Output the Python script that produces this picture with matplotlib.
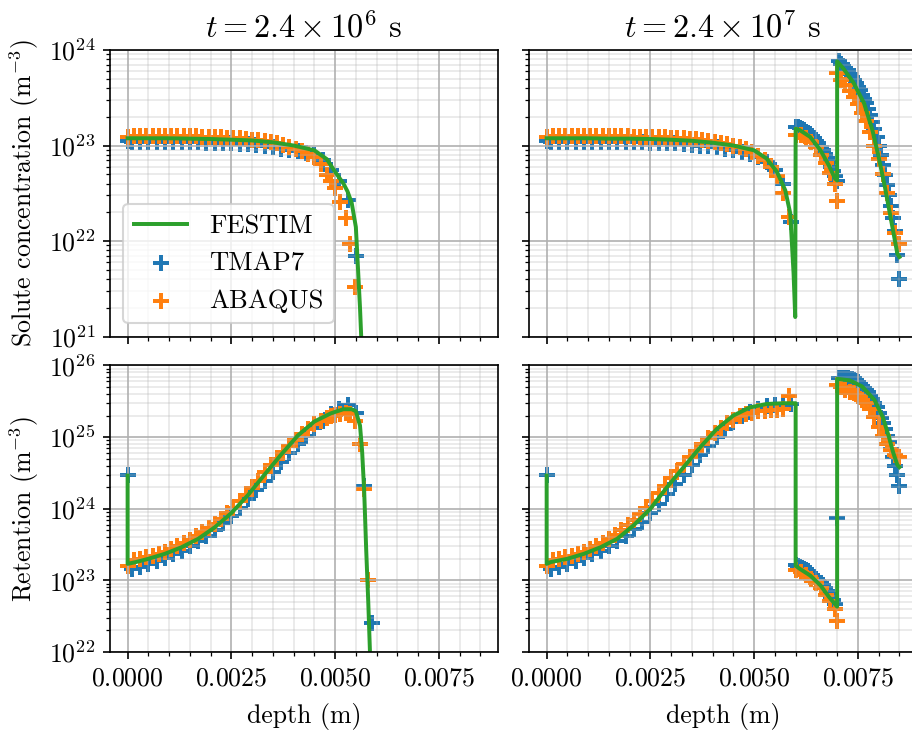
import matplotlib
matplotlib.use("Agg")
import matplotlib.pyplot as plt
from matplotlib.ticker import MultipleLocator

plt.rcParams["font.family"] = "serif"
plt.rcParams["font.serif"] = ["cmr10"]
plt.rcParams["mathtext.fontset"] = "cm"
plt.rcParams["axes.formatter.use_mathtext"] = True
plt.rcParams["font.size"] = 12.4

# ---- meshes (depth in m) ----
tmap_x = [0.0, 0.0001, 0.0003, 0.0005, 0.0007, 0.0009, 0.0011, 0.0013, 0.0015, 0.0017,
          0.0019, 0.0021, 0.0023, 0.0025, 0.0027, 0.0029, 0.0031, 0.0033, 0.0035, 0.0037,
          0.0039, 0.0041, 0.0043, 0.0045, 0.0047, 0.0049, 0.0051, 0.0053, 0.0055, 0.0057, 0.0059]
tmap_x_l2 = [0.006, 0.00605, 0.0061, 0.00615, 0.0062, 0.00625, 0.0063, 0.00635, 0.0064, 0.00645,
             0.0065, 0.00655, 0.0066, 0.00665, 0.0067, 0.00675, 0.0068, 0.00685, 0.0069, 0.00695, 0.007]
tmap_x_l3 = [0.00705, 0.0071, 0.00715, 0.0072, 0.00725, 0.0073, 0.00735, 0.0074, 0.00745, 0.0075,
             0.00755, 0.0076, 0.00765, 0.0077, 0.00775, 0.0078, 0.00785, 0.0079, 0.00795, 0.008,
             0.00805, 0.0081, 0.00815, 0.0082, 0.00825, 0.0083, 0.00835, 0.0084, 0.00845, 0.0085]

abaqus_x_t1 = [0.0, 0.00015, 0.0003, 0.00045, 0.0006, 0.00075, 0.0009, 0.00105, 0.0012, 0.00135,
               0.0015, 0.00165, 0.0018, 0.00195, 0.0021, 0.00225, 0.0024, 0.00255, 0.0027, 0.00285,
               0.003, 0.00315, 0.0033, 0.00345, 0.0036, 0.00375, 0.0039, 0.00405, 0.0042, 0.00435,
               0.0045, 0.00465, 0.0048, 0.0049, 0.005, 0.00512, 0.00526, 0.00536, 0.00548, 0.00559,
               0.00569, 0.00579]
abaqus_x_t2 = [0.0, 0.00015, 0.0003, 0.00045, 0.0006, 0.00075, 0.0009, 0.00105, 0.0012, 0.00135,
               0.0015, 0.00165, 0.0018, 0.00195, 0.0021, 0.00225, 0.0024, 0.00255, 0.0027, 0.00285,
               0.003, 0.00315, 0.0033, 0.00345, 0.0036, 0.00375, 0.0039, 0.00405, 0.0042, 0.00435,
               0.0045, 0.00465, 0.0048, 0.00495, 0.0051, 0.00525, 0.0054, 0.00555, 0.0057, 0.00585,
               0.006, 0.00612, 0.00624, 0.00636, 0.00648, 0.0066, 0.00672, 0.00684, 0.00696, 0.007,
               0.007, 0.0071, 0.0072, 0.0073, 0.0074, 0.0075, 0.0076, 0.0077, 0.0078, 0.0079,
               0.008, 0.0081, 0.0082, 0.0083, 0.0084, 0.0085]

# ---- t = 2.4e6 s ----
festim_x_c1 = [0.0, 0.0005, 0.001, 0.0015, 0.002, 0.0025, 0.003, 0.0035, 0.004, 0.0045,
               0.0048, 0.005, 0.0052, 0.0053, 0.0054, 0.0055, 0.0056, 0.00565, 0.0057]
festim_conc_t1 = [1.19e23, 1.19e23, 1.19e23, 1.18e23, 1.17e23, 1.15e23, 1.13e23, 1.08e23, 1.0e23, 8.9e22,
                  7.2e22, 5.3e22, 4.0e22, 3.3e22, 2.5e22, 1.4e22, 2.0e21, 6e20, 1e20]
festim_x_r1 = [0.0, 0.0, 0.0002, 0.0005, 0.0009, 0.0013, 0.0017, 0.0021, 0.0025, 0.0029,
               0.0033, 0.0037, 0.0041, 0.0045, 0.0049, 0.0052, 0.0054, 0.0055, 0.0056, 0.00565,
               0.0057, 0.00575, 0.0058, 0.00584, 0.0059]
festim_ret_t1 = [2.9e24, 1.7e23, 1.8e23, 2.0e23, 2.35e23, 2.9e23, 3.8e23, 5.5e23, 8.7e23, 1.55e24,
                 3.0e24, 5.7e24, 1.05e25, 1.65e25, 2.15e25, 2.45e25, 2.45e25, 2.3e25, 1.45e25, 6.5e24,
                 1.8e24, 2.6e23, 4.8e22, 1.0e22, 2e21]
tmap_conc_t1 = [1.12e23, 1.10e23, 1.10e23, 1.10e23, 1.10e23, 1.09e23, 1.09e23, 1.09e23, 1.08e23, 1.08e23,
                1.07e23, 1.07e23, 1.06e23, 1.05e23, 1.04e23, 1.03e23, 1.01e23, 9.9e22, 9.6e22, 9.3e22,
                9.0e22, 8.7e22, 8.4e22, 8.0e22, 7.0e22, 5.6e22, 4.3e22, 2.7e22, 6.9e21]
tmap_ret_t1 = [3.0e24, 1.45e23, 1.55e23, 1.7e23, 1.85e23, 2.05e23, 2.3e23, 2.6e23, 3.0e23, 3.5e23,
               4.2e23, 5.1e23, 6.3e23, 8.0e23, 1.03e24, 1.35e24, 1.8e24, 2.45e24, 3.3e24, 4.5e24,
               6.0e24, 8.0e24, 1.05e25, 1.35e25, 1.7e25, 2.1e25, 2.5e25, 2.8e25, 2.2e25, 2.1e24, 2.5e22]
abaqus_conc_t1 = [1.24e23, 1.27e23, 1.27e23, 1.27e23, 1.27e23, 1.27e23, 1.27e23, 1.26e23, 1.26e23, 1.26e23,
                  1.25e23, 1.25e23, 1.24e23, 1.24e23, 1.23e23, 1.22e23, 1.21e23, 1.2e23, 1.19e23, 1.17e23,
                  1.15e23, 1.13e23, 1.11e23, 1.08e23, 1.05e23, 1.01e23, 9.7e22, 9.2e22, 8.7e22, 8.1e22,
                  7.5e22, 6.4e22, 4.9e22, 4.3e22, 3.55e22, 2.57e22, 1.74e22, 9.4e21, 3.3e21]
abaqus_ret_t1 = [1.6e23, 1.9e23, 2.0e23, 2.1e23, 2.2e23, 2.35e23, 2.5e23, 2.75e23, 3.0e23, 3.3e23,
                 3.7e23, 4.1e23, 4.7e23, 5.4e23, 6.2e23, 7.3e23, 8.7e23, 1.04e24, 1.27e24, 1.55e24,
                 1.95e24, 2.45e24, 3.3e24, 4.1e24, 5.0e24, 6.2e24, 7.6e24, 9.2e24, 1.1e25, 1.3e25,
                 1.5e25, 1.7e25, 1.85e25, 1.98e25, 2.05e25, 2.1e25, 2.15e25, 2.1e25, 1.7e25, 8.1e24,
                 1.86e24, 1.0e23]

# ---- t = 2.4e7 s ----
festim_x_c2 = [0.0, 0.0005, 0.001, 0.0015, 0.002, 0.0025, 0.003, 0.0035, 0.004, 0.0045,
               0.005, 0.0053, 0.00555, 0.00575, 0.00587, 0.00595, 0.00599, 0.006, 0.0061, 0.00635,
               0.0066, 0.0068, 0.00695, 0.007, 0.007, 0.00715, 0.0074, 0.00765, 0.00785, 0.008,
               0.00815, 0.0083, 0.00845, 0.0085]
festim_conc_t2 = [1.19e23, 1.19e23, 1.19e23, 1.18e23, 1.18e23, 1.17e23, 1.15e23, 1.12e23, 1.07e23, 1.0e23,
                  8.9e22, 7.3e22, 5.3e22, 3.4e22, 1.95e22, 4.6e21, 1.6e21, 1.5e23, 1.45e23, 1.23e23,
                  8.9e22, 6.2e22, 4.5e22, 4.3e22, 7.6e23, 6.4e23, 4.5e23, 2.76e23, 1.45e23, 7.6e22,
                  3.7e22, 1.66e22, 7.4e21, 6.8e21]
festim_x_r2 = [0.0, 0.0, 0.0001, 0.0005, 0.0009, 0.0013, 0.0017, 0.0021, 0.0025, 0.0029,
               0.0033, 0.0037, 0.0041, 0.0045, 0.0049, 0.0053, 0.0057, 0.006, 0.006, 0.0061,
               0.00635, 0.0066, 0.0068, 0.007, 0.007, 0.0073, 0.0076, 0.0079, 0.0081, 0.00825,
               0.00835, 0.00845, 0.0085]
festim_ret_t2 = [2.9e24, 1.7e23, 1.8e23, 2.0e23, 2.35e23, 2.9e23, 3.8e23, 5.9e23, 1.0e24, 2.0e24,
                 3.8e24, 7.2e24, 1.3e25, 2.0e25, 2.6e25, 2.9e25, 2.97e25, 2.97e25, 1.6e23, 1.45e23,
                 1.17e23, 8.5e22, 5.9e22, 4.3e22, 6.5e25, 6.2e25, 5.1e25, 3.3e25, 1.9e25, 1.0e25,
                 6.1e24, 4.1e24, 3.8e24]
tmap_conc_t2 = [
    # layer 1
    1.12e23, 1.10e23, 1.10e23, 1.10e23, 1.10e23, 1.09e23, 1.09e23, 1.09e23, 1.09e23, 1.08e23,
    1.08e23, 1.08e23, 1.08e23, 1.07e23, 1.07e23, 1.06e23, 1.05e23, 1.04e23, 1.02e23, 1.0e23,
    9.8e22, 9.6e22, 9.3e22, 9.0e22, 8.6e22, 8.1e22, 7.5e22, 6.7e22, 5.6e22, 4.0e22, 1.6e22,
    # layer 2
    1.55e23, 1.55e23, 1.52e23, 1.48e23, 1.44e23, 1.4e23, 1.36e23, 1.32e23, 1.26e23, 1.19e23,
    1.12e23, 1.05e23, 9.7e22, 8.9e22, 8.1e22, 7.4e22, 6.7e22, 6.0e22, 5.4e22, 4.8e22, 4.2e22,
    # layer 3
    7.6e23, 7.2e23, 6.8e23, 6.5e23, 6.1e23, 5.6e23, 5.2e23, 4.9e23, 4.5e23, 4.1e23,
    3.8e23, 3.4e23, 3.1e23, 2.8e23, 2.4e23, 2.07e23, 1.76e23, 1.5e23, 1.22e23, 9.8e22,
    7.9e22, 6.3e22, 4.9e22, 3.9e22, 3.0e22, 2.3e22, 1.76e22, 1.26e22, 7.1e21, 4.0e21]
tmap_ret_t2 = [
    # layer 1
    3.0e24, 1.45e23, 1.55e23, 1.7e23, 1.85e23, 2.05e23, 2.3e23, 2.6e23, 3.0e23, 3.5e23,
    4.2e23, 5.2e23, 6.6e23, 8.6e23, 1.15e24, 1.6e24, 2.2e24, 3.0e24, 4.1e24, 5.6e24,
    7.5e24, 1.0e25, 1.3e25, 1.6e25, 1.95e25, 2.25e25, 2.5e25, 2.7e25, 2.8e25, 2.85e25, 2.9e25,
    # layer 2
    1.65e23, 1.6e23, 1.55e23, 1.5e23, 1.45e23, 1.4e23, 1.33e23, 1.27e23, 1.2e23, 1.13e23,
    1.06e23, 9.9e22, 9.2e22, 8.5e22, 7.8e22, 7.1e22, 6.5e22, 5.9e22, 5.3e22, 4.7e22, 7.4e23,
    # layer 3
    6.6e25, 6.7e25, 6.7e25, 6.7e25, 6.6e25, 6.5e25, 6.4e25, 6.2e25, 6.0e25, 5.8e25,
    5.5e25, 5.2e25, 4.9e25, 4.6e25, 4.2e25, 3.8e25, 3.4e25, 3.0e25, 2.6e25, 2.2e25,
    1.85e25, 1.55e25, 1.3e25, 1.05e25, 8.5e24, 6.8e24, 5.3e24, 4.0e24, 3.0e24, 2.1e24]
abaqus_conc_t2 = [
    # layer 1
    1.24e23, 1.27e23, 1.27e23, 1.27e23, 1.27e23, 1.27e23, 1.27e23, 1.27e23, 1.26e23, 1.26e23,
    1.26e23, 1.25e23, 1.25e23, 1.25e23, 1.24e23, 1.24e23, 1.23e23, 1.23e23, 1.22e23, 1.22e23,
    1.21e23, 1.2e23, 1.19e23, 1.18e23, 1.16e23, 1.14e23, 1.12e23, 1.1e23, 1.07e23, 1.04e23,
    1.0e23, 9.6e22, 9.1e22, 8.5e22, 7.8e22, 7.0e22, 6.0e22, 4.8e22, 3.2e22, 1.8e22,
    # layer 2
    1.28e23, 1.28e23, 1.2e23, 1.1e23, 9.6e22, 8.0e22, 6.5e22, 5.2e22, 4.0e22, 2.6e22,
    # layer 3
    5.7e23, 4.9e23, 4.3e23, 3.7e23, 3.2e23, 2.7e23, 2.2e23, 1.8e23, 1.39e23, 1.0e23,
    7.3e22, 5.0e22, 3.2e22, 1.95e22, 1.2e22, 9.4e21]
abaqus_ret_t2 = [
    # layer 1
    1.6e23, 1.9e23, 2.0e23, 2.1e23, 2.2e23, 2.35e23, 2.5e23, 2.75e23, 3.0e23, 3.35e23,
    3.75e23, 4.3e23, 5.0e23, 5.9e23, 6.9e23, 8.4e23, 1.03e24, 1.3e24, 1.65e24, 2.1e24,
    2.7e24, 3.4e24, 4.2e24, 5.2e24, 6.4e24, 7.9e24, 9.6e24, 1.15e25, 1.35e25, 1.55e25,
    1.75e25, 1.95e25, 2.1e25, 2.2e25, 2.28e25, 2.33e25, 2.37e25, 2.4e25, 2.45e25, 3.8e25,
    # layer 2
    1.4e23, 1.32e23, 1.2e23, 1.06e23, 9.2e22, 7.8e22, 6.3e22, 5.1e22, 4.0e22, 2.75e22,
    # layer 3
    5.3e25, 5.0e25, 4.6e25, 4.3e25, 4.1e25, 3.7e25, 3.3e25, 3.0e25, 2.5e25, 1.9e25,
    1.4e25, 1.05e25, 8.1e24, 6.6e24, 5.6e24, 5.3e24]

tmap_x_t2 = tmap_x + tmap_x_l2 + tmap_x_l3

titles = [r"$t = 2.4 \times 10^6$ s", r"$t = 2.4 \times 10^7$ s"]

fig, axs = plt.subplots(2, 2, figsize=(6.08, 4.88), sharex=True, sharey="row")
fig.subplots_adjust(left=0.1206, right=1.0055, bottom=0.1093, top=0.9317,
                    wspace=0.08, hspace=0.101)

panels = [
    (axs[0, 0], festim_x_c1, festim_conc_t1, tmap_x, tmap_conc_t1, abaqus_x_t1, abaqus_conc_t1),
    (axs[1, 0], festim_x_r1, festim_ret_t1, tmap_x, tmap_ret_t1, abaqus_x_t1, abaqus_ret_t1),
    (axs[0, 1], festim_x_c2, festim_conc_t2, tmap_x_t2, tmap_conc_t2, abaqus_x_t2, abaqus_conc_t2),
    (axs[1, 1], festim_x_r2, festim_ret_t2, tmap_x_t2, tmap_ret_t2, abaqus_x_t2, abaqus_ret_t2),
]

for ax, fx, fy, tx, ty, abx, aby in panels:
    ax.plot(fx, fy, color="tab:green", lw=1.9, label="FESTIM")
    ax.scatter(tx[:len(ty)], ty, marker="+", color="tab:blue", s=55, linewidths=1.9, label="TMAP7")
    ax.scatter(abx[:len(aby)], aby, marker="+", color="tab:orange", s=55, linewidths=1.9, label="ABAQUS")
    ax.set_yscale("log")
    ax.grid(which="major")
    ax.grid(which="minor", alpha=0.3)

for ax in axs.flat:
    ax.set_xlim(-0.000425, 0.008925)
    ax.xaxis.set_major_locator(MultipleLocator(0.0025))
    ax.xaxis.set_minor_locator(MultipleLocator(0.0005))

axs[0, 0].set_ylim(1e21, 1e24)
axs[1, 0].set_ylim(1e22, 1e26)

axs[0, 0].set_title(titles[0], fontsize=15.5)
axs[0, 1].set_title(titles[1], fontsize=15.5)
axs[0, 0].set_ylabel(r"Solute concentration (m$^{-3}$)")
axs[1, 0].set_ylabel(r"Retention (m$^{-3}$)")
axs[1, 0].set_xlabel("depth (m)", labelpad=6)
axs[1, 1].set_xlabel("depth (m)", labelpad=6)

axs[0, 0].legend(loc="lower left", fontsize=12.8)

fig.savefig("out.png", dpi=150)
